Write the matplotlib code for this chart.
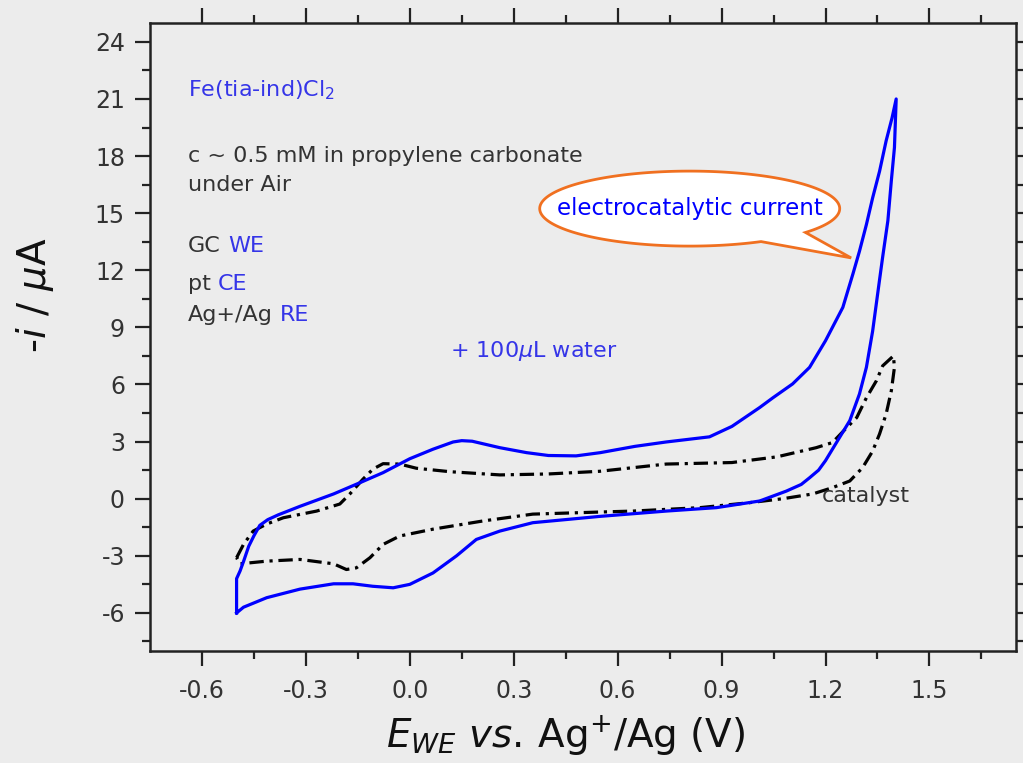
#!/usr/bin/env python3

import numpy as np
import matplotlib
matplotlib.use("Agg")
import matplotlib.pyplot as plt
from matplotlib.patches import Polygon

# cyclic voltammograms, E in V vs Ag+/Ag, -i in uA
# with 100 uL water (blue, solid), one full cycle
E_water = [-0.5, -0.5, -0.49, -0.48, -0.465, -0.45, -0.433, -0.41, -0.38,
           -0.317, -0.22, -0.144, -0.077, 0.0, 0.067, 0.125, 0.15, 0.18,
           0.26, 0.337, 0.40, 0.48, 0.55, 0.65, 0.74, 0.865, 0.93, 1.01,
           1.048, 1.105, 1.154, 1.2, 1.25, 1.279, 1.298, 1.318, 1.336,
           1.356, 1.375, 1.392, 1.404,
           1.399, 1.39, 1.38, 1.365, 1.356, 1.336, 1.318, 1.298, 1.27,
           1.24, 1.2, 1.18, 1.154, 1.13, 1.087, 1.01, 0.885, 0.74, 0.548,
           0.355, 0.26, 0.192, 0.135, 0.067, 0.0, -0.048, -0.107, -0.164,
           -0.22, -0.317, -0.413, -0.48, -0.5]
I_water = [-6.0, -4.2, -3.8, -3.3, -2.5, -1.95, -1.4, -1.1, -0.85,
           -0.4, 0.25, 0.84, 1.37, 2.1, 2.6, 2.98, 3.05, 3.02,
           2.68, 2.42, 2.27, 2.25, 2.42, 2.75, 2.98, 3.25, 3.8, 4.79,
           5.3, 6.03, 6.9, 8.3, 10.05, 11.8, 13.0, 14.4, 15.8,
           17.2, 18.8, 20.0, 21.0,
           18.45, 16.7, 14.6, 12.7, 11.5, 8.8, 6.9, 5.5, 4.1,
           3.2, 2.0, 1.5, 1.1, 0.75, 0.4, -0.12, -0.47, -0.65, -0.93,
           -1.26, -1.7, -2.14, -3.0, -3.9, -4.5, -4.68, -4.6, -4.47,
           -4.47, -4.75, -5.2, -5.7, -6.0]

# catalyst only (black, dash-dot)
E_cat = [-0.5, -0.48, -0.452, -0.413, -0.365, -0.269, -0.202, -0.173,
         -0.135, -0.106, -0.077, -0.029, 0.019, 0.115, 0.26, 0.40, 0.548,
         0.74, 0.93, 1.06, 1.173, 1.22, 1.261, 1.29, 1.318, 1.347, 1.365,
         1.396,
         1.399, 1.39, 1.375, 1.356, 1.336, 1.307, 1.27, 1.22, 1.163, 1.077,
         0.98, 0.837, 0.644, 0.548, 0.355, 0.211, 0.067, -0.029, -0.077,
         -0.115, -0.154, -0.183, -0.22, -0.317, -0.413, -0.49, -0.5]
I_cat = [-3.1, -2.4, -1.7, -1.33, -1.0, -0.65, -0.28, 0.25,
         1.03, 1.56, 1.84, 1.82, 1.6, 1.42, 1.25, 1.3, 1.44,
         1.82, 1.9, 2.2, 2.68, 2.95, 3.73, 4.26, 5.3, 6.2, 6.98,
         7.5,
         6.9, 5.67, 4.45, 3.4, 2.5, 1.63, 0.93, 0.58, 0.25, 0.0,
         -0.21, -0.47, -0.65, -0.7, -0.81, -1.17, -1.6, -1.96, -2.4,
         -3.1, -3.63, -3.72, -3.42, -3.19, -3.28, -3.42, -3.1]

x_ticks = [-0.6, -0.3, 0.0, 0.3, 0.6, 0.9, 1.2, 1.5]
x_minor = [-0.45, -0.15, 0.15, 0.45, 0.75, 1.05, 1.35, 1.65]
y_ticks = [-6, -3, 0, 3, 6, 9, 12, 15, 18, 21, 24]

BG = "#ececec"
BLUE = "#0000ff"
TBLUE = "#3535e8"
GREY = "#333333"

plt.rcParams["font.family"] = ["DejaVu Sans"]
plt.rcParams["axes.unicode_minus"] = False
plt.rcParams["mathtext.fontset"] = "custom"
plt.rcParams["mathtext.rm"] = "DejaVu Sans"
plt.rcParams["mathtext.it"] = "DejaVu Sans:italic"

fig = plt.figure(figsize=(10.23, 7.63), dpi=100, facecolor=BG)
ax = fig.add_axes([0.1466, 0.1468, 0.8466, 0.8233], facecolor=BG)

ax.plot(E_cat, I_cat, color="black", lw=2.3, linestyle=(0, (4.5, 1.8, 1, 1.8)))
ax.plot(E_water, I_water, color=BLUE, lw=2.3)

ax.set_xlim(-0.75, 1.75)
ax.set_ylim(-8, 25)
ax.set_xticks(x_ticks)
ax.set_xticklabels(["%.1f" % v for v in x_ticks])
ax.set_xticks(x_minor, minor=True)
ax.set_yticks(y_ticks)
ax.set_yticks(np.arange(-7.5, 25, 3), minor=True)
ax.tick_params(which="both", direction="out", top=True, right=True,
               width=1.6, colors="#222222", labelcolor=GREY, labelsize=17)
ax.tick_params(which="major", length=11, pad=7)
ax.tick_params(which="minor", length=6)
ax.tick_params(axis="x", which="major", pad=9)
for s in ax.spines.values():
    s.set_linewidth(1.8)
    s.set_color("#222222")

ax.set_xlabel(r"$E_{WE}$ $vs.\,$Ag$^{+}$/Ag (V)", fontsize=28, color="#111111")
ax.xaxis.set_label_coords(0.48, -0.1)
ax.set_ylabel(r"-$i$ / $\mu$A", fontsize=28, color="#111111")
ax.yaxis.set_label_coords(-0.108, 0.567)

# text notes
fs = 16
ax.text(-0.64, 21.45, r"Fe(tia-ind)Cl$_2$", color=TBLUE, fontsize=fs, va="center")
ax.text(-0.64, 18.0, "c ~ 0.5 mM in propylene carbonate", color=GREY,
        fontsize=fs, va="center")
ax.text(-0.64, 16.5, "under Air", color=GREY, fontsize=fs, va="center")
for y, black, blue in [(12.95, "GC", "WE"), (10.95, "pt", "CE"), (9.35, "Ag+/Ag", "RE")]:
    t1 = ax.text(-0.64, y, black, color=GREY, fontsize=fs, va="baseline")
    ax.annotate(blue, xy=(1, 0), xycoords=t1, xytext=(5, 0),
                textcoords="offset points", color=TBLUE, fontsize=fs,
                va="bottom", ha="left")
ax.text(0.115, 7.75, r"+ 100$\mu$L water", color=TBLUE, fontsize=fs, va="center")
ax.text(1.19, 0.15, "catalyst", color=GREY, fontsize=fs, va="center")

# speech balloon
cx, cy, a, b = 0.808, 15.24, 0.433, 1.97
t = np.radians(np.linspace(-39.5, 360 - 61.6, 200))
pts = np.column_stack([cx + a * np.cos(t), cy + b * np.sin(t)])
pts = np.vstack([pts, [[1.274, 12.65]]])
ax.add_patch(Polygon(pts, closed=True, facecolor="white", edgecolor="#f07020",
                     lw=2, zorder=5))
ax.text(cx, cy, "electrocatalytic current", color=BLUE, fontsize=16.5,
        ha="center", va="center", zorder=6)

fig.savefig("out.png", dpi=100, facecolor=BG)
